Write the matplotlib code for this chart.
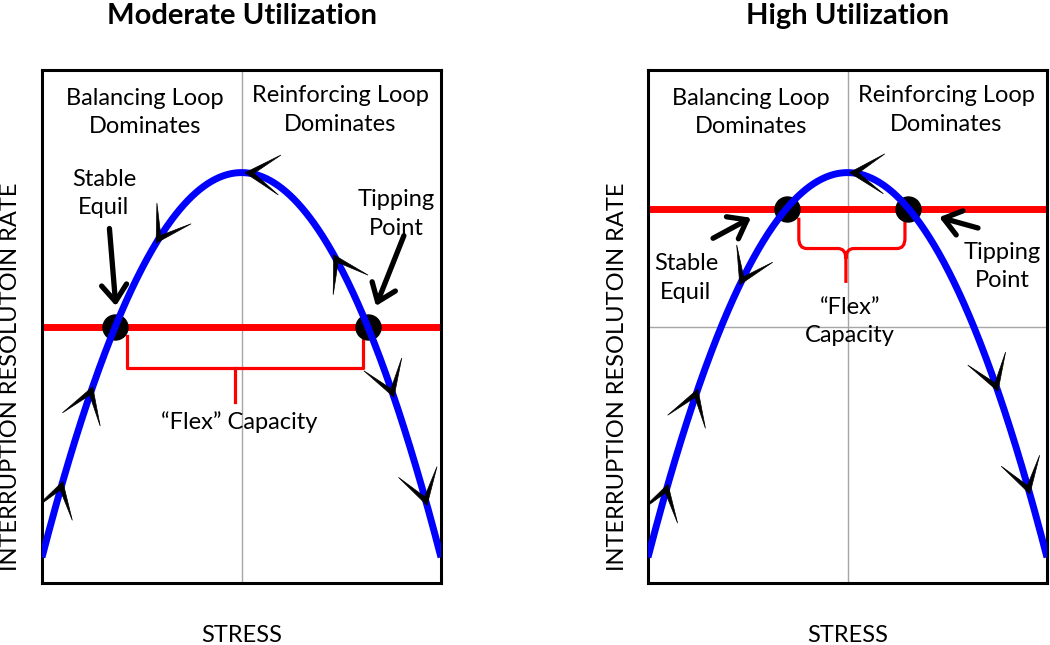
import numpy as np
import matplotlib
matplotlib.use("Agg")
import matplotlib.pyplot as plt
from matplotlib.patches import Polygon
from matplotlib.path import Path
from matplotlib.patches import PathPatch

plt.rcParams['font.family'] = ['Lato', 'DejaVu Sans']

# --- chart content -------------------------------------------------------
titles = ["Moderate Utilization", "High Utilization"]
x_label = "STRESS"
y_label = "INTERRUPTION RESOLUTOIN RATE"

# parabola: peak height at mid stress, height at the edges
curve_peak = 0.80
curve_edge = 0.05
curve_mid = 0.5

# capacity (red) level per panel
capacity_level = [0.50, 0.73]

# flow arrowheads on the curve: stress position and direction (+1 = to the right)
flow_x = [[0.052, 0.127, 0.286, 0.509, 0.731, 0.882, 0.965],
          [0.050, 0.125, 0.230, 0.505, 0.877, 0.957]]
flow_dir = [[+1, +1, -1, -1, -1, +1, +1],
            [+1, +1, -1, -1, +1, +1]]

region_labels = ["Balancing Loop\nDominates", "Reinforcing Loop\nDominates"]
stable_label = "Stable\nEquil"
tipping_label = "Tipping\nPoint"
flex_labels = ["\u201cFlex\u201d Capacity", "\u201cFlex\u201d\nCapacity"]


def curve(x):
    k = (curve_peak - curve_edge) / curve_mid ** 2
    return curve_peak - k * (x - curve_mid) ** 2


fig = plt.figure(figsize=(10.5, 6.45), dpi=100)
W, H = 1050, 645
lefts = [42, 648]
axes = [fig.add_axes([l / W, 1 - 583 / H, 399 / W, 513 / H]) for l in lefts]

xs = np.linspace(0, 1, 400)
LS = 1.45


def barb(ax, x0, d):
    p = ax.transData.transform((x0, curve(x0)))
    q = ax.transData.transform((x0 + 1e-3 * d, curve(x0 + 1e-3 * d)))
    fwd = (q - p) / np.hypot(*(q - p))
    back = -fwd
    L, a = 40, np.radians(30)

    def rot(v, t):
        return np.array([v[0] * np.cos(t) - v[1] * np.sin(t),
                         v[0] * np.sin(t) + v[1] * np.cos(t)])
    pts = [p, p + L * rot(back, a), p + 9 * back, p + L * rot(back, -a)]
    pts = ax.transData.inverted().transform(np.array(pts))
    ax.add_patch(Polygon(pts, closed=True, facecolor='black', edgecolor='black',
                         lw=0.5, zorder=4))


def arrow(ax, start, tip):
    ax.annotate('', xy=tip, xytext=start,
                arrowprops=dict(arrowstyle='->,head_length=0.6,head_width=0.45',
                                lw=3.8, color='black', mutation_scale=20,
                                shrinkA=0, shrinkB=0), zorder=6)


for i, ax in enumerate(axes):
    ax.set_xlim(0, 1)
    ax.set_ylim(0, 1)
    ax.set_xticks([])
    ax.set_yticks([])
    for s in ax.spines.values():
        s.set_linewidth(2.2)
        s.set_color('black')

    ax.axvline(0.5, color='#a6a6a6', lw=1, zorder=1)
    ax.axhline(0.5, color='#a6a6a6', lw=1, zorder=1)

    lvl = capacity_level[i]
    ax.axhline(lvl, color='#ff0000', lw=5, zorder=2)
    ax.plot(xs, curve(xs), color='#0000ff', lw=5, zorder=3, solid_capstyle='butt')

    half = np.sqrt((curve_peak - lvl) / (curve_peak - curve_edge)) * curve_mid
    eq = [curve_mid - half, curve_mid + half]
    ax.plot(eq, [lvl, lvl], 'o', color='black', ms=18, zorder=2.5)

    for x0, d in zip(flow_x[i], flow_dir[i]):
        barb(ax, x0, d)

    ax.text(0.258, 0.917, region_labels[0], ha='center', va='center', fontsize=17,
            linespacing=LS)
    ax.text(0.748, 0.922, region_labels[1], ha='center', va='center', fontsize=17,
            linespacing=LS)

    if i == 0:
        ax.text(0.155, 0.759, stable_label, ha='center', va='center', fontsize=17,
                linespacing=LS)
        ax.text(0.887, 0.719, tipping_label, ha='center', va='center', fontsize=17,
                linespacing=LS)
        ax.text(0.494, 0.314, flex_labels[0], ha='center', va='center', fontsize=17)
        arrow(ax, (0.169, 0.691), (0.185, 0.540))
        arrow(ax, (0.907, 0.677), (0.837, 0.540))
        # square bracket
        ax.plot([0.213, 0.213, 0.805, 0.805], [0.482, 0.419, 0.419, 0.482],
                color='#ff0000', lw=2.3, zorder=2)
        ax.plot([0.484, 0.484], [0.419, 0.352], color='#ff0000', lw=2.3, zorder=2)
    else:
        ax.text(0.095, 0.595, stable_label, ha='center', va='center', fontsize=17,
                linespacing=LS)
        ax.text(0.887, 0.617, tipping_label, ha='center', va='center', fontsize=17,
                linespacing=LS)
        ax.text(0.506, 0.51, flex_labels[1], ha='center', va='center', fontsize=17,
                linespacing=LS)
        arrow(ax, (0.163, 0.672), (0.258, 0.712))
        arrow(ax, (0.827, 0.692), (0.730, 0.713))
        # curly brace
        xl, xr, xm = 0.378, 0.644, 0.496
        yt, yb, ys = 0.712, 0.652, 0.585
        r = 0.02
        verts = [(xl, yt), (xl, yb + r), (xl, yb), (xl + r, yb),
                 (xm - r, yb), (xm, yb), (xm, yb - r), (xm, ys),
                 (xm, yb - r), (xm, yb), (xm + r, yb),
                 (xr - r, yb), (xr, yb), (xr, yb + r), (xr, yt)]
        codes = [Path.MOVETO, Path.LINETO, Path.CURVE3, Path.CURVE3,
                 Path.LINETO, Path.CURVE3, Path.CURVE3, Path.LINETO,
                 Path.MOVETO, Path.CURVE3, Path.CURVE3,
                 Path.LINETO, Path.CURVE3, Path.CURVE3, Path.LINETO]
        ax.add_patch(PathPatch(Path(verts, codes), facecolor='none',
                               edgecolor='#ff0000', lw=2.3, zorder=2))

    cx = (lefts[i] + 200) / W
    fig.text(cx, 1 - 16 / H, titles[i], ha='center', va='center', fontsize=21,
             fontweight='bold')
    fig.text(cx, 1 - 635 / H, x_label, ha='center', va='center', fontsize=17)
    fig.text((lefts[i] - 31) / W, 1 - 377 / H, y_label, ha='center', va='center',
             fontsize=17, rotation=90)

fig.savefig("out.png", dpi=100)
